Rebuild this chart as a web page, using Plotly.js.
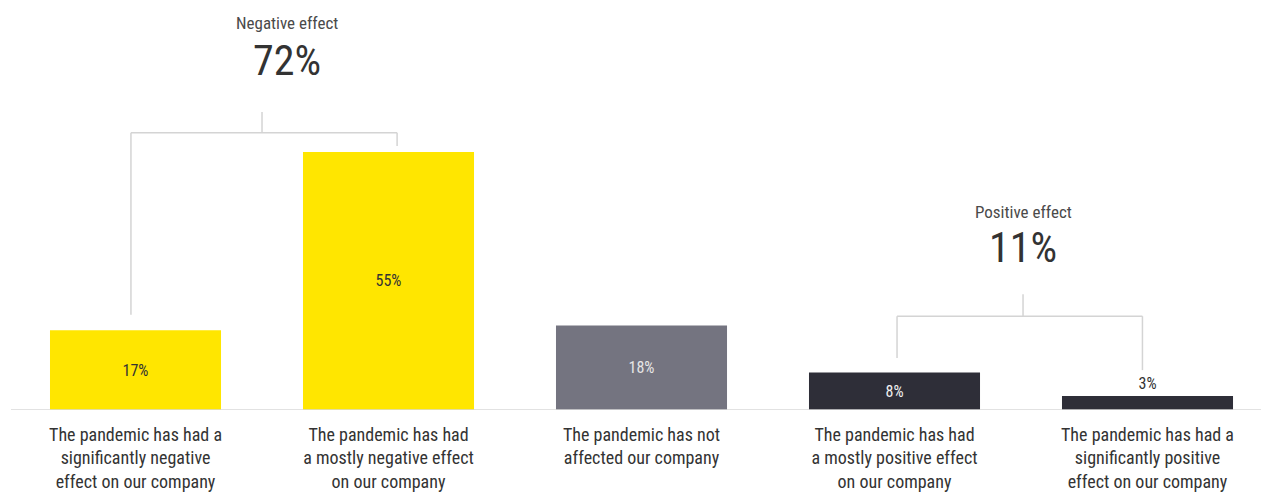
<!DOCTYPE html>
<html>
<head>
<meta charset="utf-8">
<script src="https://cdn.plot.ly/plotly-3.0.1.min.js"></script>
<style>html,body{margin:0;padding:0;background:#fff;}#chart{width:1261px;height:494px;}</style>
</head>
<body>
<div id="chart"></div>
<script>
const categories = [
  "The pandemic has had a<br>significantly negative<br>effect on our company",
  "The pandemic has had<br>a mostly negative effect<br>on our company",
  "The pandemic has not<br>affected our company<br> ",
  "The pandemic has had<br>a mostly positive effect<br>on our company",
  "The pandemic has had a<br>significantly positive<br>effect on our company"
];
const values = [17, 55, 18, 8, 3];
const valueLabels = ["17%", "55%", "18%", "8%", "3%"];
const barColors = ["#FFE600", "#FFE600", "#747480", "#2E2E38", "#2E2E38"];
const labelColors = ["#333333", "#333333", "#E6E6E6", "#F0F0F0", "#333333"];
const labelPositions = ["inside", "inside", "inside", "inside", "outside"];
const groupNames = ["Negative effect", "Positive effect"];
const groupTotals = ["72%", "11%"];

const FONT = "'Liberation Sans Narrow', 'Roboto Condensed', Roboto, sans-serif";
const xs = categories.map((c, i) => i);

const trace = {
  type: "bar",
  x: xs,
  y: values,
  text: valueLabels,
  textposition: labelPositions,
  insidetextanchor: "middle",
  textfont: {family: FONT, size: 16, color: labelColors},
  outsidetextfont: {family: FONT, size: 16, color: "#333333"},
  constraintext: "none",
  marker: {color: barColors, line: {width: 0}},
  hoverinfo: "skip",
  cliponaxis: false
};

const lineStyle = {color: "#D4D4D4", width: 1.5};
function vline(x, y0, y1) { return {type: "line", xref: "x", yref: "y", x0: x, x1: x, y0: y0, y1: y1, line: lineStyle}; }
function hline(x0, x1, y) { return {type: "line", xref: "x", yref: "y", x0: x0, x1: x1, y0: y, y1: y, line: lineStyle}; }

const shapes = [
  {type: "line", xref: "paper", yref: "y", x0: 0.0087, x1: 1, y0: 0, y1: 0, line: {color: "#D9D9D9", width: 1.5}},
  // negative bracket
  hline(-0.018, 1.034, 59.1),
  vline(-0.018, 59.1, 20.3),
  vline(1.034, 59.1, 56.3),
  vline(0.5, 59.1, 63.5),
  // positive bracket
  hline(3.01, 3.98, 20.0),
  vline(3.01, 20.0, 11.1),
  vline(3.98, 20.0, 8.5),
  vline(3.508, 20.0, 24.7)
];

const annotations = [
  {xref: "x", yref: "y", x: 0.599, y: 82.5, text: groupNames[0], showarrow: false, font: {family: FONT, size: 17, color: "#4A4A4A"}},
  {xref: "x", yref: "y", x: 0.599, y: 74.4, text: groupTotals[0], showarrow: false, font: {family: FONT, size: 42, color: "#333333"}},
  {xref: "x", yref: "y", x: 3.508, y: 42.2, text: groupNames[1], showarrow: false, font: {family: FONT, size: 17, color: "#4A4A4A"}},
  {xref: "x", yref: "y", x: 3.508, y: 34.6, text: groupTotals[1], showarrow: false, font: {family: FONT, size: 42, color: "#333333"}}
];

const layout = {
  width: 1261,
  height: 494,
  margin: {l: 0, r: 0, t: 0, b: 84, pad: 0},
  paper_bgcolor: "#FFFFFF",
  plot_bgcolor: "#FFFFFF",
  showlegend: false,
  bargap: 0.324,
  xaxis: {
    range: [-0.5356, 4.4486],
    tickmode: "array",
    tickvals: xs,
    ticktext: categories,
    showgrid: false,
    zeroline: false,
    showline: false,
    ticks: "",
    ticklabelstandoff: 12,
    tickfont: {family: FONT, size: 18, color: "#333333"},
    fixedrange: true
  },
  yaxis: {
    range: [0, 87.4],
    visible: false,
    showgrid: false,
    zeroline: false,
    fixedrange: true
  },
  shapes: shapes,
  annotations: annotations
};

Plotly.newPlot("chart", [trace], layout, {displayModeBar: false, staticPlot: true});
</script>
</body>
</html>
